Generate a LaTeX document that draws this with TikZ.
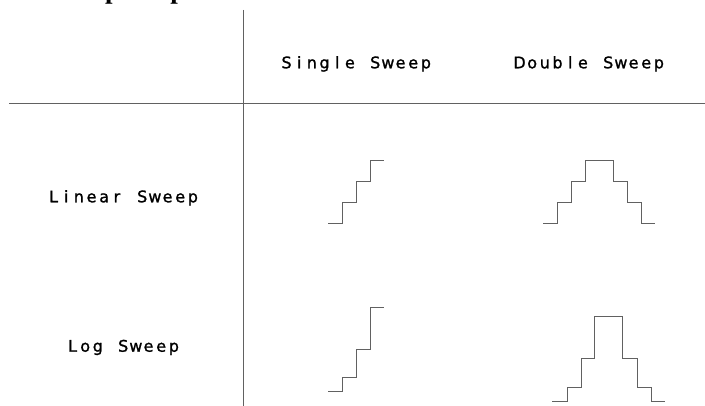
\documentclass[tikz,border=0pt]{standalone}
\usepackage{fontspec}
\setmainfont{Liberation Serif}
\newfontfamily\lblfont[FakeBold=1.2]{DejaVu Sans}
\ExplSyntaxOn
\NewDocumentCommand\monotext{m}{\str_map_inline:nn{#1}{\makebox[12.67pt][c]{##1}}}
\ExplSyntaxOff
\begin{document}
\begin{tikzpicture}[x=1pt,y=-1pt,
  rule/.style={draw=black!62,line width=1pt},
  stair/.style={draw=black!62,line width=1pt,line join=miter},
  lbl/.style={inner sep=0pt,anchor=base west,font=\lblfont\fontsize{16}{18}\selectfont},
  ttl/.style={inner sep=0pt,anchor=base west,font=\bfseries\fontsize{27}{30}\selectfont}]
\useasboundingbox[fill=white] (0,0) rectangle (705,406);
\begin{scope}
\clip (0,0) rectangle (705,406);
\node[ttl] (title) at (46.5,-1) {Sweep Shapes};
\end{scope}
% grid
\coordinate (vtop) at (243,10);
\coordinate (vbot) at (243,406);
\coordinate (hl) at (9,103.5);
\coordinate (hr) at (705,103.5);
\draw[rule] (vtop) -- (vbot);
\draw[rule] (hl) -- (hr);
% labels
\node[lbl] (single) at (280,68.3) {\monotext{Single Sweep}};
\node[lbl] (double) at (513,68.3) {\monotext{Double Sweep}};
\node[lbl] (linear) at (47,202.3) {\monotext{Linear Sweep}};
\node[lbl] (log) at (66,351.7) {\monotext{Log Sweep}};
% staircases
\draw[stair] (328,224) -| (342,203) -| (356,182) -| (370,161) -- (384,161);
\draw[stair] (543,224) -| (557,203) -| (571,182) -| (585,161) -- (613,161) |- (627,182) |- (641,203) |- (655,224);
\draw[stair] (328,392) -| (342,378) -| (356,350) -| (370,308) -- (384,308);
\draw[stair] (552,402) -| (567,388) -| (581,359) -| (594,317) -- (622,317) |- (637,359) |- (651,388) |- (665,402);
\end{tikzpicture}
\end{document}
